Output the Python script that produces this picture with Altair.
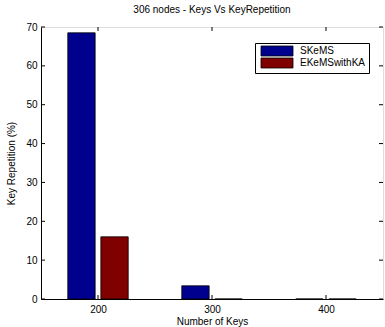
import altair as alt
import pandas as pd

# Number of keys on the x axis and key repetition (%) per scheme
keys = [200, 300, 400]
skems = [68.5, 3.4, 0.0]
ekems_with_ka = [16.0, 0.0, 0.0]
series_names = ["SKeMS", "EKeMSwithKA"]
series_colors = ["#00008F", "#800000"]

x_ticks = [200, 300, 400]
y_ticks = [0, 10, 20, 30, 40, 50, 60, 70]

W, H = 342, 272
FONT = "Liberation Sans"

rows = []
for i, name in enumerate(series_names):
    vals = [skems, ekems_with_ka][i]
    for k, v in zip(keys, vals):
        rows.append({"keys": k, "series": name, "idx": i, "value": v})
df = pd.DataFrame(rows)

xscale = alt.Scale(domain=[150, 450], nice=False, zero=False)
yscale = alt.Scale(domain=[0, 70], nice=False)

axis_style = dict(
    ticks=False,
    grid=False,
    domainColor="black",
    labelFont=FONT,
    labelFontSize=10,
    labelColor="black",
    labelOverlap=False,
    titleFont=FONT,
    titleFontSize=10,
    titleFontWeight="normal",
    titleColor="black",
)
x_axis = alt.Axis(values=x_ticks, title="Number of Keys", labelPadding=5,
                  titlePadding=2, **axis_style)
y_axis = alt.Axis(values=y_ticks, title="Key Repetition (%)", labelPadding=4,
                  titlePadding=9, **axis_style)

# grouped bars: each series shifted within the group around the key value
bars = (
    alt.Chart(df)
    .transform_calculate(
        x0="datum.keys + (datum.idx - 0.5) * 29 - 12",
        x1="datum.keys + (datum.idx - 0.5) * 29 + 12",
    )
    .mark_bar(stroke="black", strokeWidth=0.8)
    .encode(
        x=alt.X("x0:Q", scale=xscale, axis=x_axis),
        x2="x1:Q",
        y=alt.Y("value:Q", scale=yscale, axis=y_axis),
        y2=alt.datum(0),
        color=alt.Color(
            "series:N",
            scale=alt.Scale(domain=series_names, range=series_colors),
            legend=alt.Legend(
                title=None,
                orient="none",
                legendX=214,
                legendY=16,
                symbolType="M-6.4,-2H6.4V2H-6.4Z",
                symbolSize=25,
                symbolOffset=14,
                symbolStrokeColor="black",
                symbolStrokeWidth=0.8,
                symbolOpacity=1,
                labelFontSize=10,
                labelFont=FONT,
                labelColor="black",
                labelOffset=18,
                rowPadding=-3,
                padding=3,
                strokeColor="black",
                fillColor="white",
            ),
        ),
    )
)

xt = pd.DataFrame({"x0": x_ticks})
yt = pd.DataFrame({"value": y_ticks})
TL = 4

# inward tick marks on all four sides of the box
top_ticks = alt.Chart(xt).mark_rule(color="black", strokeWidth=1).encode(
    x=alt.X("x0:Q", scale=xscale, axis=x_axis), y=alt.value(0), y2=alt.value(TL)
)
bottom_ticks = alt.Chart(xt).mark_rule(color="black", strokeWidth=1).encode(
    x=alt.X("x0:Q", scale=xscale, axis=x_axis), y=alt.value(H - TL), y2=alt.value(H)
)
left_ticks = alt.Chart(yt).mark_rule(color="black", strokeWidth=1).encode(
    y=alt.Y("value:Q", scale=yscale, axis=y_axis), x=alt.value(0), x2=alt.value(TL)
)
right_ticks = alt.Chart(yt).mark_rule(color="black", strokeWidth=1).encode(
    y=alt.Y("value:Q", scale=yscale, axis=y_axis), x=alt.value(W - TL), x2=alt.value(W)
)

chart = (
    alt.layer(bars, top_ticks, bottom_ticks, left_ticks, right_ticks)
    .properties(
        width=W,
        height=H,
        title=alt.Title(
            "306 nodes - Keys Vs KeyRepetition",
            fontSize=10,
            font=FONT,
            fontWeight="normal",
            color="black",
            offset=7,
        ),
        autosize=alt.AutoSizeParams(type="none"),
        padding={"left": 41, "top": 27, "right": 2, "bottom": 28},
    )
    .configure_view(stroke="black", strokeWidth=1)
    .configure(background="white")
)

chart.save("out.html", embed_options={"renderer": "svg", "actions": False})
